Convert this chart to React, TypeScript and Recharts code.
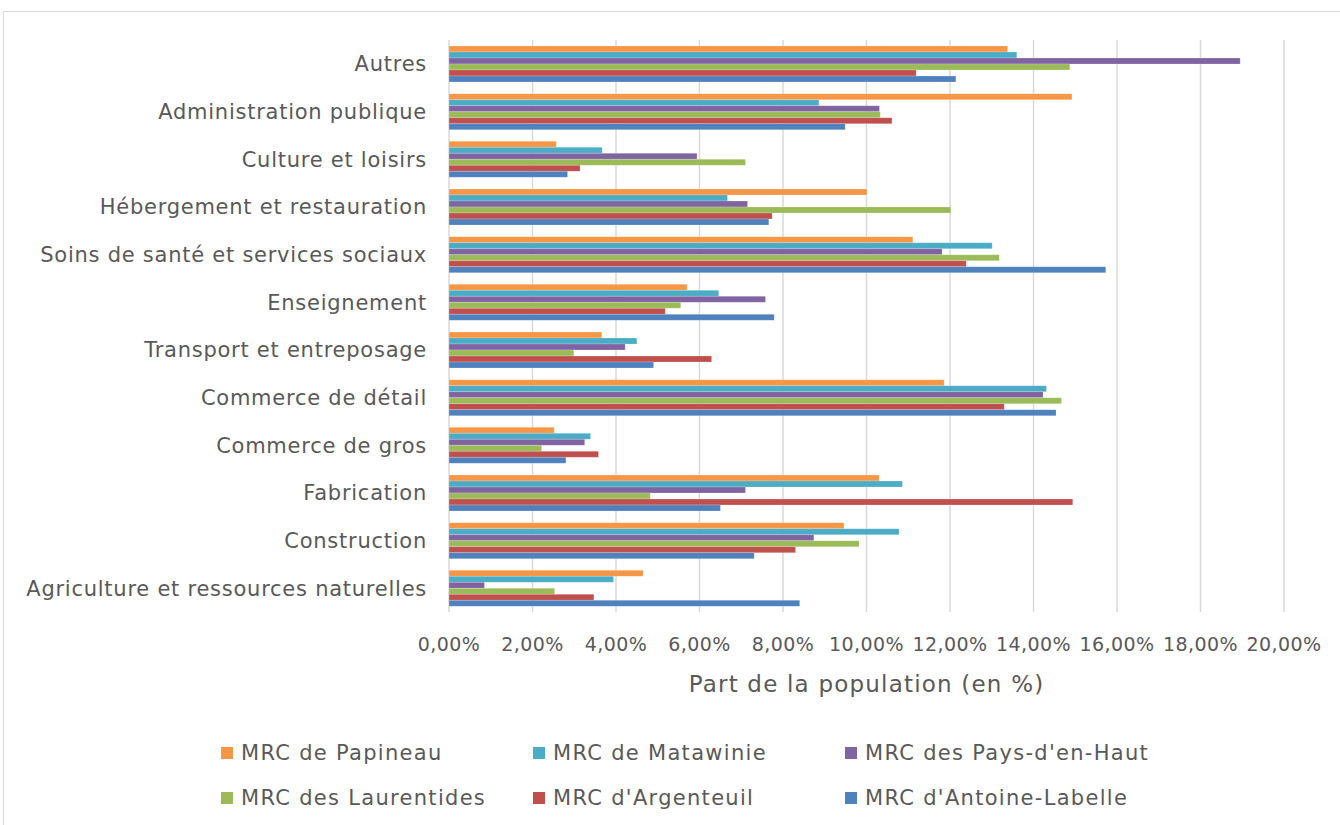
import React from 'react'
import { BarChart, Bar, XAxis, YAxis, CartesianGrid, Label } from 'recharts'

const CATEGORIES = [
  'Autres',
  'Administration publique',
  'Culture et loisirs',
  'Hébergement et restauration',
  'Soins de santé et services sociaux',
  'Enseignement',
  'Transport et entreposage',
  'Commerce de détail',
  'Commerce de gros',
  'Fabrication',
  'Construction',
  'Agriculture et ressources naturelles',
]

// part de la population (%), same order as CATEGORIES
const PAPINEAU = [13.38, 14.92, 2.57, 10.01, 11.11, 5.7, 3.66, 11.86, 2.52, 10.3, 9.46, 4.65]
const MATAWINIE = [13.6, 8.86, 3.67, 6.67, 13.01, 6.46, 4.5, 14.31, 3.39, 10.86, 10.78, 3.94]
const PAYS_D_EN_HAUT = [18.95, 10.31, 5.94, 7.15, 11.81, 7.58, 4.22, 14.23, 3.25, 7.1, 8.74, 0.85]
const LAURENTIDES = [14.87, 10.33, 7.1, 12.02, 13.18, 5.55, 2.99, 14.67, 2.22, 4.82, 9.82, 2.53]
const ARGENTEUIL = [11.19, 10.61, 3.14, 7.74, 12.39, 5.18, 6.29, 13.3, 3.58, 14.94, 8.3, 3.47]
const ANTOINE_LABELLE = [12.14, 9.49, 2.84, 7.66, 15.73, 7.79, 4.9, 14.54, 2.8, 6.5, 7.31, 8.4]

const X_TICKS = [0, 2, 4, 6, 8, 10, 12, 14, 16, 18, 20]

const SERIES = [
  { key: 'papineau', label: 'MRC de Papineau', color: '#F79646', values: PAPINEAU },
  { key: 'matawinie', label: 'MRC de Matawinie', color: '#4BACC6', values: MATAWINIE },
  { key: 'paysdenhaut', label: "MRC des Pays-d'en-Haut", color: '#8064A2', values: PAYS_D_EN_HAUT },
  { key: 'laurentides', label: 'MRC des Laurentides', color: '#9BBB59', values: LAURENTIDES },
  { key: 'argenteuil', label: "MRC d'Argenteuil", color: '#C0504D', values: ARGENTEUIL },
  { key: 'antoinelabelle', label: "MRC d'Antoine-Labelle", color: '#4F81BD', values: ANTOINE_LABELLE },
]

const data = CATEGORIES.map((name, i) => {
  const row: Record<string, string | number> = { name }
  SERIES.forEach((s) => {
    row[s.key] = s.values[i]
  })
  return row
})

const FONT = '"DejaVu Sans", sans-serif'
const TEXT_COLOR = '#595959'

const formatPct = (v: number) => `${v.toFixed(2).replace('.', ',')}%`

// legend grid: 3 columns x 2 rows (square left edge, row centre)
const LEGEND_COLS = [221, 533, 845]
const LEGEND_ROWS = [753, 798]

export default function App() {
  return (
    <div
      style={{
        position: 'absolute',
        left: 0,
        top: 0,
        width: 1340,
        height: 825,
        overflow: 'hidden',
        background: '#ffffff',
        fontFamily: FONT,
      }}
    >
      <div
        style={{
          position: 'absolute',
          left: 3,
          top: 11,
          width: 1340,
          height: 820,
          borderTop: '1px solid #d9d9d9',
          borderLeft: '1px solid #d9d9d9',
        }}
      />
      <div style={{ position: 'absolute', left: 0, top: 0 }}>
        <BarChart
          width={1340}
          height={720}
          data={data}
          layout="vertical"
          margin={{ top: 40, right: 56, bottom: 58, left: 9 }}
          barSize={6}
          barGap={0}
        >
          <CartesianGrid horizontal={false} stroke="#d9d9d9" strokeWidth={1.5} />
          <XAxis
            type="number"
            domain={[0, 20]}
            ticks={X_TICKS}
            tickFormatter={formatPct}
            axisLine={false}
            tickLine={false}
            tickSize={0}
            tickMargin={26}
            height={50}
            interval={0}
            tick={{ fill: TEXT_COLOR, fontSize: 19, fontFamily: FONT, letterSpacing: 0.4 }}
          >
            <Label
              value="Part de la population (en %)"
              position="bottom"
              offset={14}
              style={{ fill: TEXT_COLOR, fontSize: 23, fontFamily: FONT, letterSpacing: 1.2 }}
            />
          </XAxis>
          <YAxis
            type="category"
            dataKey="name"
            width={440}
            axisLine={false}
            tickLine={false}
            tickSize={0}
            tickMargin={22}
            interval={0}
            tick={{ fill: TEXT_COLOR, fontSize: 21, fontFamily: FONT, letterSpacing: 0.75 }}
          />
          {SERIES.map((s) => (
            <Bar
              key={s.key}
              dataKey={s.key}
              name={s.label}
              fill={s.color}
              stroke="#ffffff"
              strokeOpacity={0.4}
              strokeWidth={0.5}
              isAnimationActive={false}
            />
          ))}
        </BarChart>
      </div>
      {SERIES.map((s, i) => (
        <div
          key={s.key}
          style={{
            position: 'absolute',
            left: LEGEND_COLS[i % 3],
            top: LEGEND_ROWS[Math.floor(i / 3)] - 15,
            height: 30,
            display: 'flex',
            alignItems: 'center',
            whiteSpace: 'nowrap',
            fontSize: 21,
            letterSpacing: 1.3,
            color: TEXT_COLOR,
          }}
        >
          <span
            style={{
              display: 'inline-block',
              width: 12,
              height: 12,
              background: s.color,
              marginRight: 8,
            }}
          />
          {s.label}
        </div>
      ))}
    </div>
  )
}
